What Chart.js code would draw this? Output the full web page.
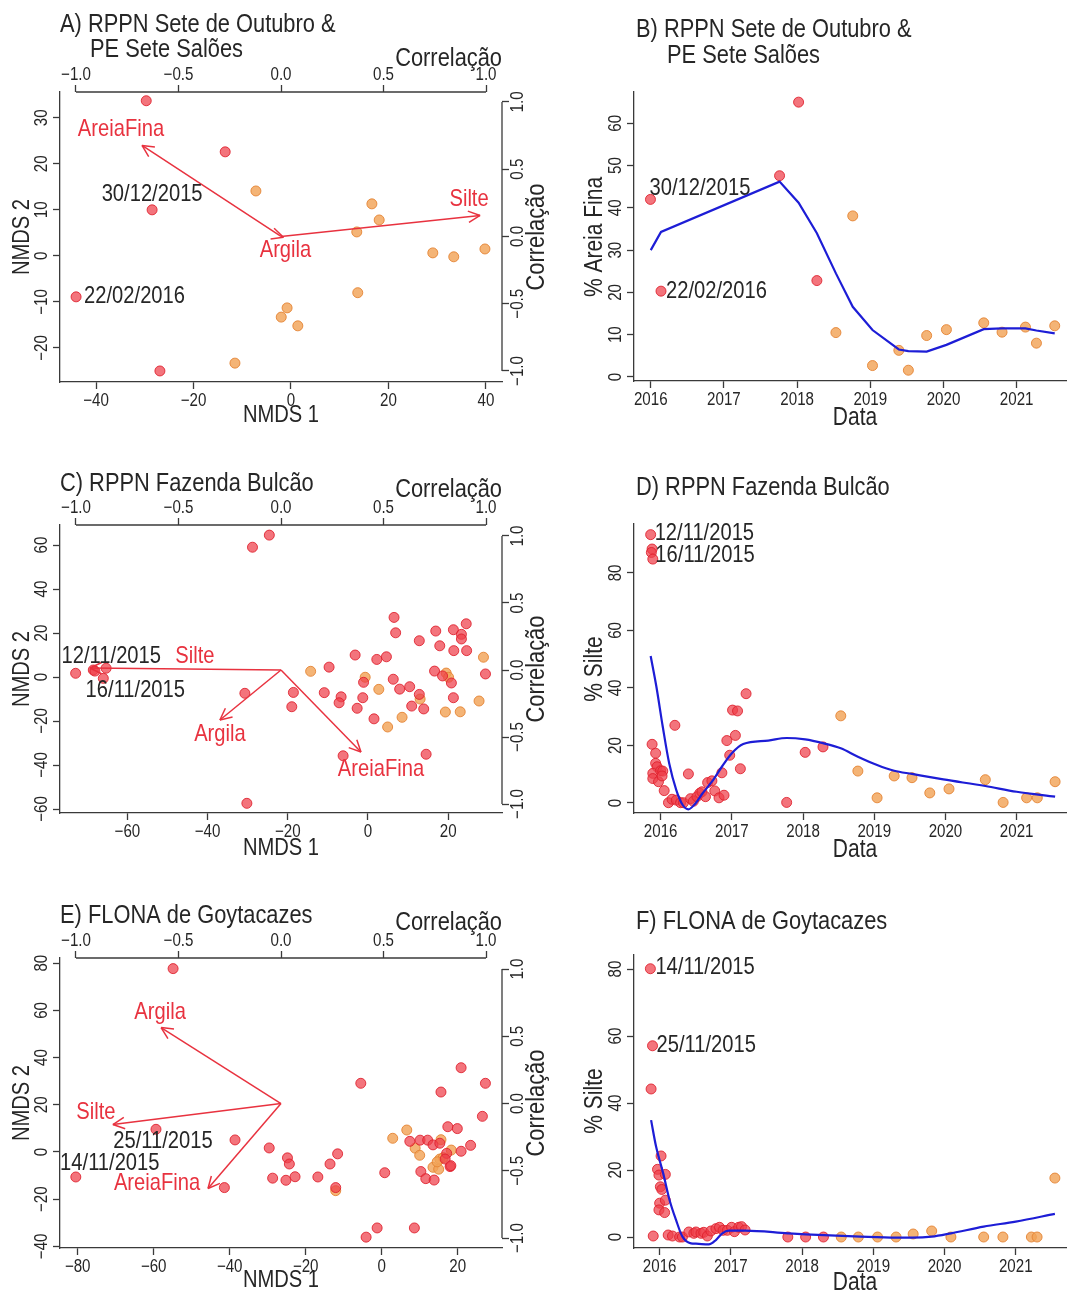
<!doctype html>
<html>
<head>
<meta charset="utf-8">
<title>NMDS e granulometria</title>
<script src="https://cdn.jsdelivr.net/npm/chart.js@4/dist/chart.umd.min.js"></script>
<style>
  html, body { margin: 0; padding: 0; background: #fff; }
  body { position: relative; width: 1072px; height: 1293px; overflow: hidden; }
  canvas { position: absolute; }
</style>
</head>
<body>
<canvas id="panelA" width="560" height="430" style="left:0;top:0"></canvas>
<canvas id="panelB" width="512" height="430" style="left:560px;top:0"></canvas>
<canvas id="panelC" width="560" height="430" style="left:0;top:430px"></canvas>
<canvas id="panelD" width="512" height="430" style="left:560px;top:430px"></canvas>
<canvas id="panelE" width="560" height="433" style="left:0;top:860px"></canvas>
<canvas id="panelF" width="512" height="433" style="left:560px;top:860px"></canvas>
<script>
// ---- data ----

// A) RPPN Sete de Outubro & PE Sete Salões - NMDS scores
const aRedX = [-29.7, -13.5, -28.5, -44.1, -26.9];
const aRedY = [33.7, 22.6, 10.0, -8.9, -25.0];
const aOrangeX = [-7.2, -11.5, 16.6, 18.1, 13.5, 29.1, 33.4, 39.8, 13.7, -0.8, -2.0, 1.4];
const aOrangeY = [14.1, -23.3, 11.3, 7.8, 5.2, 0.65, -0.2, 1.5, -8.0, -11.3, -13.3, -15.2];
const aArrowNames = ['AreiaFina', 'Silte', 'Argila'];
const aArrowX = [-0.678, 0.971, 0.012];
const aArrowY = [0.677, 0.156, -0.006];
const aDateText = ['30/12/2015', '22/02/2016'];
const aDateIdx = [2, 3];

// B) % Areia Fina over time
const bRedX = [2015.996, 2016.14, 2017.76, 2018.02, 2018.27];
const bRedY = [42.0, 20.3, 47.6, 65.0, 22.8];
const bOrangeX = [2018.53, 2018.76, 2019.03, 2019.39, 2019.52, 2019.77, 2020.04, 2020.55, 2020.80, 2021.12, 2021.27, 2021.52];
const bOrangeY = [10.5, 38.1, 2.7, 6.3, 1.6, 9.8, 11.2, 12.8, 10.6, 11.8, 8.0, 12.1];
const bLoessX = [2016.0, 2016.14, 2017.76, 2018.02, 2018.27, 2018.53, 2018.76, 2019.03, 2019.39, 2019.52, 2019.77, 2020.04, 2020.55, 2020.80, 2021.12, 2021.27, 2021.52];
const bLoessY = [30.0, 34.3, 46.2, 41.2, 34.0, 24.5, 16.6, 11.1, 6.5, 6.1, 6.0, 7.6, 11.3, 11.5, 11.5, 11.0, 10.3];
const bDateText = ['30/12/2015', '22/02/2016'];
const bDateIdx = [0, 1];

// C) RPPN Fazenda Bulcão - NMDS scores
const cRedX = [-72.9, -68.5, -68.1, -65.3, -66.0, -28.8, -24.6, -30.2, -30.7,
  6.5, 6.9, 12.8, 16.9, 21.3, 24.5, 23.3, 23.3, 17.9, 21.4, 24.6,
  -3.2, 2.2, 4.6, -9.7, 16.6, 18.6, 20.8, 29.3, 6.3, -1.1, 7.9, 10.4, 12.8,
  -18.6, -10.9, -6.7, -7.2, -1.3, -19.0, -2.7, 10.9, 13.9, 21.3, 1.5, -6.2, 14.5];
const cRedY = [1.7, 3.2, 2.7, 4.0, -0.6, 59.0, 64.5, -57.4, -7.4,
  27.1, 20.1, 16.5, 20.9, 21.5, 24.2, 19.4, 17.3, 14.2, 12.0, 12.0,
  10.0, 8.0, 9.2, 4.5, 2.7, 0.5, -2.7, 1.4, -1.0, -2.4, -5.5, -4.4, -7.9,
  -7.0, -7.1, -9.0, -11.7, -9.4, -13.5, -14.2, -13.2, -14.5, -9.4, -19.0, -35.8, -35.1];
const cOrangeX = [-14.3, -0.7, 2.7, 19.5, 20.1, 28.8, 27.7, 13.0, 19.3, 23.0, 8.5, 4.9];
const cOrangeY = [2.6, -0.1, -5.6, 1.8, -0.1, 9.0, -10.9, -10.0, -15.9, -15.8, -18.3, -22.7];
const cArrowNames = ['Silte', 'Argila', 'AreiaFina'];
const cArrowX = [-0.932, -0.298, 0.39];
const cArrowY = [0.015, -0.373, -0.612];
const cDateText = ['12/11/2015', '16/11/2015'];
const cDateIdx = [1, 4];

// D) % Silte over time, Fazenda Bulcão
const dRedX = [2015.86, 2015.88, 2015.87, 2015.89, 2015.88, 2015.93, 2015.93, 2015.95, 2015.89, 2015.89, 2015.97,
  2016.00, 2016.03, 2016.02, 2016.05, 2016.11, 2016.16, 2016.20, 2016.22, 2016.28, 2016.32,
  2016.39, 2016.42, 2016.46, 2016.51, 2016.55, 2016.58, 2016.63, 2016.66, 2016.72, 2016.76, 2016.82,
  2016.86, 2016.89, 2016.93, 2016.97, 2017.01, 2017.05, 2017.08, 2017.12, 2017.20, 2017.77, 2018.03, 2018.28];
const dRedY = [93.3, 88.3, 87.1, 84.8, 20.4, 17.3, 13.8, 12.6, 10.3, 8.5, 7.4,
  11.2, 11.1, 9.4, 4.3, 0.1, 1.3, 27.0, 1.0, 0.1, 0.1,
  10.1, 1.5, 0.6, 2.2, 3.4, 3.9, 2.2, 7.1, 7.7, 4.2, 1.8,
  10.5, 2.7, 21.7, 16.6, 32.3, 23.5, 32.0, 11.9, 38.0, 0.2, 17.6, 19.5];
const dOrangeX = [2018.53, 2018.77, 2019.04, 2019.28, 2019.53, 2019.78, 2020.05, 2020.56, 2020.81, 2021.14, 2021.29, 2021.54];
const dOrangeY = [30.3, 11.1, 1.8, 9.4, 8.8, 3.5, 4.9, 8.1, 0.2, 1.8, 1.8, 7.4];
const dLoessX = [2015.86, 2015.94, 2016.03, 2016.12, 2016.22, 2016.31, 2016.39, 2016.47, 2016.59, 2016.72, 2016.86, 2017.00, 2017.16,
  2017.51, 2017.77, 2018.03, 2018.28, 2018.53, 2018.77, 2019.04, 2019.28, 2019.53, 2019.97, 2020.56, 2021.00, 2021.54];
const dLoessY = [51.1, 40.5, 26.5, 13.8, 4.5, -0.7, -2.2, -0.7, 3.4, 7.4, 12.6, 17.3, 20.5,
  21.7, 22.6, 22.1, 20.8, 19.0, 16.1, 13.2, 11.2, 10.1, 8.2, 5.9, 3.9, 2.2];
const dDateText = ['12/11/2015', '16/11/2015'];
const dDateIdx = [0, 2];

// E) FLONA de Goytacazes - NMDS scores
const eRedX = [-54.9, -59.4, -38.6, -80.5, -41.4, -5.5, 20.9, 27.3, 15.6, 26.5,
  17.4, 19.9, 23.4, 20.9, 7.4, 10.1, 12.1, 13.5, 15.3, 17.1,
  18.0, 10.3, 11.6, 13.8, 0.8, -29.6, -24.8, -24.3, -11.6, -13.6,
  -28.7, -25.2, -22.8, -16.8, -12.1, -4.1, -1.2, 8.6, 16.7, 18.2];
const eRedY = [77.7, 9.6, 5.1, -10.6, -15.1, 29.1, 35.7, 29.1, 25.4, 15.1,
  10.7, 9.9, 2.8, 0.3, 4.5, 5.0, 5.0, 3.0, 3.7, -0.6,
  -6.2, -8.3, -11.3, -11.9, -8.8, 1.7, -2.5, -5.1, -0.8, -5.1,
  -11.1, -12.0, -10.5, -10.6, -15.1, -36.1, -32.2, -32.2, -3.0, -5.8];
const eOrangeX = [2.9, 6.6, 8.8, 10.0, 15.6, 18.3, 15.3, 13.5, 15.0, -12.1, 16.2, 14.6];
const eOrangeY = [5.8, 9.3, 1.6, -1.4, 5.2, 0.8, -3.0, -6.5, -7.3, -16.4, -2.4, -4.2];
const eArrowNames = ['Argila', 'Silte', 'AreiaFina'];
const eArrowX = [-0.585, -0.82, -0.356];
const eArrowY = [0.565, -0.156, -0.632];
const eDateText = ['25/11/2015', '14/11/2015'];
const eDateIdx = [1, 3];

// F) % Silte over time, FLONA de Goytacazes
const fRedX = [2015.87, 2015.90, 2015.88, 2015.91, 2016.02, 2015.97, 2015.99, 2016.08, 2016.01, 2016.03,
  2016.00, 2016.08, 2015.99, 2016.07, 2016.12, 2016.18, 2016.28, 2016.32, 2016.41, 2016.48,
  2016.51, 2016.58, 2016.62, 2016.67, 2016.72, 2016.79, 2016.84, 2016.89, 2016.95, 2017.01,
  2017.05, 2017.11, 2017.15, 2017.20, 2017.80, 2018.05, 2018.30];
const fRedY = [80.1, 57.1, 44.2, 0.3, 24.2, 20.2, 18.5, 18.7, 15.0, 14.2,
  10.1, 11.0, 8.1, 7.3, 0.6, 0.3, 0, 0, 1.5, 1.1,
  1.5, 1.1, 1.4, 0.3, 1.8, 2.5, 2.9, 2.0, 2.0, 2.9,
  1.6, 2.9, 3.1, 2.1, 0, 0, 0];
const fOrangeX = [2018.55, 2018.79, 2019.06, 2019.32, 2019.56, 2019.82, 2020.09, 2020.55, 2020.82, 2021.22, 2021.30, 2021.55];
const fOrangeY = [0, 0, 0, 0, 0.9, 1.8, 0, 0, 0, 0, 0, 17.6];
const fLoessX = [2015.88, 2015.95, 2016.05, 2016.14, 2016.23, 2016.32, 2016.44, 2016.51, 2016.69, 2016.79, 2016.88, 2016.97,
  2017.20, 2017.80, 2018.05, 2018.82, 2019.32, 2019.55, 2019.82, 2020.09, 2020.55, 2021.00, 2021.55];
const fLoessY = [34.9, 27.0, 19.0, 11.0, 5.1, 0.1, -1.9, -2.0, -2.2, -0.9, 1.1, 1.9,
  1.9, 1.1, 0.8, 0.1, -0.2, -0.2, 0.1, 1.1, 3.1, 4.6, 6.9];
const fDateText = ['14/11/2015', '25/11/2015'];
const fDateIdx = [0, 1];

// tick values
const corrTicks = [-1, -0.5, 0, 0.5, 1];
const yearTicks = [2016, 2017, 2018, 2019, 2020, 2021];
const aXTicks = [-40, -20, 0, 20, 40];
const aYTicks = [-20, -10, 0, 10, 20, 30];
const bYTicks = [0, 10, 20, 30, 40, 50, 60];
const cXTicks = [-60, -40, -20, 0, 20];
const cYTicks = [-60, -40, -20, 0, 20, 40, 60];
const dYTicks = [0, 20, 40, 60, 80];
const eXTicks = [-80, -60, -40, -20, 0, 20];
const eYTicks = [-40, -20, 0, 20, 40, 60, 80];
const fYTicks = [0, 20, 40, 60, 80];

// ---- style ----
const FONT = "'Liberation Sans', Arial, Helvetica, sans-serif";
const SQUEEZE = 0.84;   // the original lettering is narrower than Arial
const INK = '#262626';
const AXIS = '#3a3a3a';
const RED_FILL = 'rgba(238,62,74,0.72)';
const RED_EDGE = 'rgba(222,30,44,0.85)';
const ORANGE_FILL = 'rgba(241,163,88,0.82)';
const ORANGE_EDGE = 'rgba(228,132,52,0.9)';
const ARROW = '#e8323f';
const LOESS = '#1d1dd6';

function pts(xs, ys) { return xs.map((x, i) => ({ x, y: ys[i] })); }
function fmt(v, dec) { return (dec ? v.toFixed(dec) : String(v)).replace('-', '\u2212'); }

function seg(ctx, x1, y1, x2, y2) {
  ctx.beginPath(); ctx.moveTo(x1, y1); ctx.lineTo(x2, y2); ctx.stroke();
}

function txt(ctx, s, x, y, size, rot = 0, align = 'center', color = INK) {
  ctx.save();
  ctx.translate(x, y);
  if (rot) ctx.rotate(rot * Math.PI / 180);
  ctx.scale(SQUEEZE, 1);
  ctx.font = `${size}px ${FONT}`;
  ctx.fillStyle = color;
  ctx.textAlign = align;
  ctx.textBaseline = 'middle';
  ctx.fillText(s, 0, 0);
  ctx.restore();
}

function scale(pos, range, ticks, size, full) {
  const vertical = pos === 'left' || pos === 'right';
  return {
    type: 'linear', position: pos, min: range[0], max: range[1],
    afterBuildTicks: s => { s.ticks = ticks.map(value => ({ value })); },
    afterFit: s => { if (vertical) s.width = size; else s.height = size; },
    border: { display: full, color: AXIS, width: 1.3 },
    grid: { display: true, drawOnChartArea: false, drawTicks: true, tickLength: 7, tickColor: AXIS, tickWidth: 1.3 },
    ticks: { display: false }
  };
}

function dots(xs, ys, fill, edge) {
  return { data: pts(xs, ys), backgroundColor: fill, borderColor: edge, borderWidth: 1, pointRadius: 5, clip: false };
}

// R-like decorations: tick labels, partial correlation axes, arrows, text
function rPanel(cfg) {
  const L = cfg.layout;
  return {
    id: 'rPanel',
    afterDraw(chart) {
      const { ctx, chartArea: ca, scales } = chart;
      const { x, y, x2, y2 } = scales;
      ctx.save();
      ctx.strokeStyle = AXIS;
      ctx.lineWidth = 1.3;
      if (x2) seg(ctx, x2.getPixelForValue(-1), ca.top, x2.getPixelForValue(1), ca.top);
      if (y2) seg(ctx, ca.right, y2.getPixelForValue(1), ca.right, y2.getPixelForValue(-1));

      x.ticks.forEach(t => txt(ctx, fmt(t.value), x.getPixelForValue(t.value), ca.bottom + 19, 18));
      y.ticks.forEach(t => txt(ctx, fmt(t.value), ca.left - 18, y.getPixelForValue(t.value), 18, -90));
      if (x2) x2.ticks.forEach(t => txt(ctx, fmt(t.value, 1), x2.getPixelForValue(t.value), ca.top - 17, 18));
      if (y2) y2.ticks.forEach(t => txt(ctx, fmt(t.value, 1), ca.right + 16, y2.getPixelForValue(t.value), 18, -90));

      if (cfg.arrows) {
        const [names, ax, ay] = cfg.arrows;
        const ox = x2.getPixelForValue(0), oy = y2.getPixelForValue(0);
        ctx.strokeStyle = ARROW;
        ctx.lineWidth = 1.5;
        names.forEach((name, i) => {
          const tx = x2.getPixelForValue(ax[i]), ty = y2.getPixelForValue(ay[i]);
          seg(ctx, ox, oy, tx, ty);
          const ang = Math.atan2(ty - oy, tx - ox);
          [-0.45, 0.45].forEach(d => seg(ctx, tx, ty, tx - 13 * Math.cos(ang + d), ty - 13 * Math.sin(ang + d)));
          const off = L.arrowOffsets[i];
          txt(ctx, name, tx + off[0], ty + off[1], 24, 0, 'center', ARROW);
        });
      }

      const [dtext, didx] = cfg.dates;
      dtext.forEach((s, i) => {
        const k = didx[i], off = L.dateOffsets[i];
        const px = x.getPixelForValue(cfg.red[0][k]) + off[0];
        const py = y.getPixelForValue(cfg.red[1][k]) + off[1];
        txt(ctx, s, px, py, 24, 0, off[2]);
      });

      L.texts.forEach(t => txt(ctx, t.t, t.x, t.y, t.size, t.rot || 0, t.align || 'center'));
      ctx.restore();
    }
  };
}

function makePanel(id, cfg) {
  const L = cfg.layout;
  const datasets = [];
  if (cfg.loess) {
    datasets.push({
      data: pts(cfg.loess[0], cfg.loess[1]), showLine: true, borderColor: LOESS, borderWidth: 2.2,
      pointRadius: 0, tension: cfg.smooth ? 0.4 : 0, cubicInterpolationMode: cfg.smooth ? 'monotone' : 'default', clip: false
    });
  }
  datasets.push(dots(cfg.red[0], cfg.red[1], RED_FILL, RED_EDGE));
  datasets.push(dots(cfg.orange[0], cfg.orange[1], ORANGE_FILL, ORANGE_EDGE));

  const scales = {
    x: scale('bottom', L.xRange, cfg.xTicks, L.bottom, true),
    y: scale('left', L.yRange, cfg.yTicks, L.left, true)
  };
  if (cfg.arrows) {
    scales.x2 = scale('top', L.x2Range, corrTicks, L.top, false);
    scales.y2 = scale('right', L.y2Range, corrTicks, L.right, false);
  }
  return new Chart(document.getElementById(id), {
    type: 'scatter',
    data: { datasets },
    options: {
      responsive: false, animation: false, devicePixelRatio: 1, events: [],
      layout: { padding: { top: cfg.arrows ? 0 : L.top, right: 0, bottom: 0, left: 0 } },
      plugins: { legend: { display: false }, tooltip: { enabled: false } },
      scales
    },
    plugins: [rPanel(cfg)]
  });
}

// ---- panels ----
makePanel('panelA', {
  red: [aRedX, aRedY], orange: [aOrangeX, aOrangeY],
  arrows: [aArrowNames, aArrowX, aArrowY], dates: [aDateText, aDateIdx],
  xTicks: aXTicks, yTicks: aYTicks,
  layout: {
    left: 60, right: 58, top: 92, bottom: 48,
    xRange: [-47.4, 43.3], yRange: [-27.4, 35.6], x2Range: [-1.078, 1.078], y2Range: [-1.082, 1.074],
    arrowOffsets: [[-21, -16], [-11, -16], [2, 13]],
    dateOffsets: [[0, -15, 'center'], [8, 0, 'left']],
    texts: [
      { t: 'A) RPPN Sete de Outubro &', x: 60, y: 25, size: 26, align: 'left' },
      { t: 'PE Sete Salões', x: 90, y: 49.5, size: 26, align: 'left' },
      { t: 'Correlação', x: 502, y: 59, size: 26, align: 'right' },
      { t: 'NMDS 1', x: 281, y: 415, size: 24 },
      { t: 'NMDS 2', x: 22, y: 237, size: 24, rot: -90 },
      { t: 'Correlação', x: 537, y: 237, size: 26, rot: -90 }
    ]
  }
});

makePanel('panelB', {
  red: [bRedX, bRedY], orange: [bOrangeX, bOrangeY], loess: [bLoessX, bLoessY], smooth: false,
  dates: [bDateText, bDateIdx], xTicks: yearTicks, yTicks: bYTicks,
  layout: {
    left: 74, top: 92, bottom: 49,
    xRange: [2015.771, 2021.674], yRange: [-0.95, 67.4],
    dateOffsets: [[-1, -11, 'left'], [5, 0, 'left']],
    texts: [
      { t: 'B) RPPN Sete de Outubro &', x: 76, y: 30, size: 26, align: 'left' },
      { t: 'PE Sete Salões', x: 107, y: 55.5, size: 26, align: 'left' },
      { t: 'Data', x: 295, y: 418, size: 25 },
      { t: '% Areia Fina', x: 35, y: 237, size: 25, rot: -90 }
    ]
  }
});

makePanel('panelC', {
  red: [cRedX, cRedY], orange: [cOrangeX, cOrangeY],
  arrows: [cArrowNames, cArrowX, cArrowY], dates: [cDateText, cDateIdx],
  xTicks: cXTicks, yTicks: cYTicks,
  layout: {
    left: 60, right: 58, top: 95, bottom: 47,
    xRange: [-76.8, 33.42], yRange: [-61.8, 69.1], x2Range: [-1.078, 1.078], y2Range: [-1.067, 1.082],
    arrowOffsets: [[105, -12], [0, 14], [20, 17]],
    dateOffsets: [[18, -14, 'center'], [32, 12, 'center']],
    texts: [
      { t: 'C) RPPN Fazenda Bulcão', x: 60, y: 54, size: 26, align: 'left' },
      { t: 'Correlação', x: 502, y: 60, size: 26, align: 'right' },
      { t: 'NMDS 1', x: 281, y: 418, size: 24 },
      { t: 'NMDS 2', x: 22, y: 239, size: 24, rot: -90 },
      { t: 'Correlação', x: 537, y: 239, size: 26, rot: -90 }
    ]
  }
});

makePanel('panelD', {
  red: [dRedX, dRedY], orange: [dOrangeX, dOrangeY], loess: [dLoessX, dLoessY], smooth: true,
  dates: [dDateText, dDateIdx], xTicks: yearTicks, yTicks: dYTicks,
  layout: {
    left: 74, top: 94, bottom: 47,
    xRange: [2015.626, 2021.693], yRange: [-3.48, 97.0],
    dateOffsets: [[4, -1, 'left'], [4, 3, 'left']],
    texts: [
      { t: 'D) RPPN Fazenda Bulcão', x: 76, y: 58, size: 26, align: 'left' },
      { t: 'Data', x: 295, y: 420, size: 25 },
      { t: '% Silte', x: 35, y: 239, size: 25, rot: -90 }
    ]
  }
});

makePanel('panelE', {
  red: [eRedX, eRedY], orange: [eOrangeX, eOrangeY],
  arrows: [eArrowNames, eArrowX, eArrowY], dates: [eDateText, eDateIdx],
  xTicks: eXTicks, yTicks: eYTicks,
  layout: {
    left: 60, right: 58, top: 98, bottom: 45,
    xRange: [-84.66, 31.66], yRange: [-40.7, 82.2], x2Range: [-1.078, 1.078], y2Range: [-1.074, 1.082],
    arrowOffsets: [[-1, -15], [-17, -12], [-51, -5]],
    dateOffsets: [[7, 12, 'center'], [34, -14, 'center']],
    texts: [
      { t: 'E) FLONA de Goytacazes', x: 60, y: 56, size: 26, align: 'left' },
      { t: 'Correlação', x: 502, y: 63, size: 26, align: 'right' },
      { t: 'NMDS 1', x: 281, y: 420, size: 24 },
      { t: 'NMDS 2', x: 22, y: 243, size: 24, rot: -90 },
      { t: 'Correlação', x: 537, y: 243, size: 26, rot: -90 }
    ]
  }
});

makePanel('panelF', {
  red: [fRedX, fRedY], orange: [fOrangeX, fOrangeY], loess: [fLoessX, fLoessY], smooth: true,
  dates: [fDateText, fDateIdx], xTicks: yearTicks, yTicks: fYTicks,
  layout: {
    left: 74, top: 95, bottom: 45,
    xRange: [2015.64, 2021.706], yRange: [-3.28, 84.2],
    dateOffsets: [[5, -1, 'left'], [4, 0, 'left']],
    texts: [
      { t: 'F) FLONA de Goytacazes', x: 76, y: 62, size: 26, align: 'left' },
      { t: 'Data', x: 295, y: 423, size: 25 },
      { t: '% Silte', x: 35, y: 241, size: 25, rot: -90 }
    ]
  }
});
</script>
</body>
</html>
